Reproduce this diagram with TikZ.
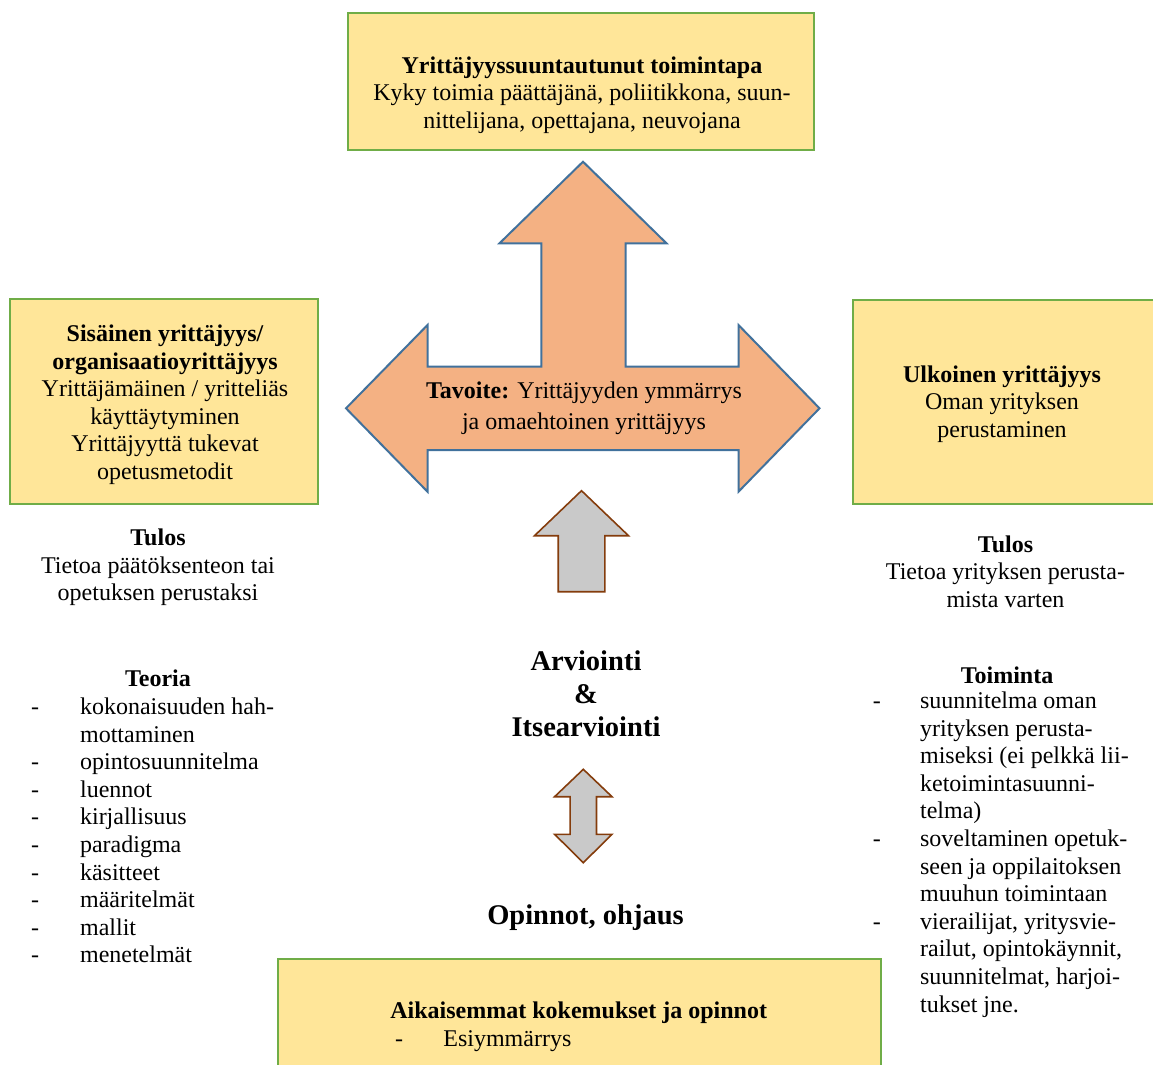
\documentclass[tikz,border=0pt]{standalone}
\usepackage{fontspec}
\newfontfamily\fa{Liberation Serif}
\newcommand\rs{\fa\fontsize{48}{55.2}\selectfont}
\newcommand\rsgoal{\fa\fontsize{48}{62}\selectfont}
\newcommand\rsbig{\fa\fontsize{57}{66}\selectfont\bfseries}
\newcommand\rsb{\fa\fontsize{48}{55.2}\selectfont\bfseries}
\definecolor{boxfill}{HTML}{FFE699}
\definecolor{boxline}{HTML}{70AD47}
\definecolor{arrfill}{HTML}{F4B183}
\definecolor{arrline}{HTML}{41719C}
\definecolor{grayfill}{HTML}{C9C9C9}
\definecolor{brownline}{HTML}{843C0C}
\begin{document}
\begin{tikzpicture}[x=2pt,y=-2pt,
  every node/.style={font=\rs, inner sep=0pt},
  ybox/.style={draw=boxline, fill=boxfill, line width=5pt},
  bigarrow/.style={draw=arrline, fill=arrfill, line width=4pt, line join=miter},
  grayarrow/.style={draw=brownline, fill=grayfill, line width=3.2pt, line join=miter},
  bigtitle/.style={font=\rsbig, align=center},
  ctext/.style={align=center}]
\useasboundingbox (0,0) rectangle (1153,1064);

% boxes
\node[ybox, minimum width=932pt, minimum height=274pt] (topbox) at (581,81.5) {};
\node[ybox, minimum width=616pt, minimum height=410pt] (leftbox) at (164,401.5) {};
\node[ybox, minimum width=604pt, minimum height=408pt] (rightbox) at (1004,402) {};
\node[ybox, minimum width=1206pt, minimum height=216pt] (bottombox) at (579.5,1013) {};

% big three-way arrow
\draw[bigarrow] (583,161.7) -- (666.5,243.3) -- (625.7,243.3) -- (625.7,366.7)
  -- (738.5,366.7) -- (738.5,325) -- (819.5,408.3) -- (738.5,491.7) -- (738.5,450)
  -- (427.5,450) -- (427.5,491.7) -- (346,408.3) -- (427.5,325) -- (427.5,366.7)
  -- (541.3,366.7) -- (541.3,243.3) -- (499.5,243.3) -- cycle;

% small grey arrows
\draw[grayarrow] (581.5,490.7) -- (628.5,535.7) -- (604.8,535.7) -- (604.8,591.7)
  -- (558.2,591.7) -- (558.2,535.7) -- (534.5,535.7) -- cycle;
\draw[grayarrow] (583.3,769.3) -- (612,796.7) -- (596.5,796.7) -- (596.5,834.3)
  -- (612,834.3) -- (583.3,862.7) -- (554.6,834.3) -- (570.1,834.3) -- (570.1,796.7)
  -- (554.6,796.7) -- cycle;

% texts in boxes
\node[ctext] (toptxt) at (582,95) {\rs\textbf{Yrittäjyyssuuntautunut toimintapa}\\\rs Kyky toimia päättäjänä, poliitikkona, suun-\\\rs nittelijana, opettajana, neuvojana};
\node[ctext] (lefttxt) at (165,404.8) {\rsb Sisäinen yrittäjyys/\\\rsb organisaatioyrittäjyys\\\rs Yrittäjämäinen / yritteliäs\\\rs käyttäytyminen\\\rs Yrittäjyyttä tukevat\\\rs opetusmetodit};
\node[ctext] (righttxt) at (1002,404) {\rsb Ulkoinen yrittäjyys\\\rs Oman yrityksen\\\rs perustaminen};
\node[ctext, font=\rsgoal] (goal) at (584,408.3) {\rsgoal\textbf{Tavoite:} Yrittäjyyden ymmärrys\\\rsgoal ja omaehtoinen yrittäjyys};

% results
\node[ctext] (lefttulos) at (158,567.5) {\rsb Tulos\\\rs Tietoa päätöksenteon tai\\\rs opetuksen perustaksi};
\node[ctext] (righttulos) at (1005.5,571.5) {\rsb Tulos\\\rs Tietoa yrityksen perusta-\\\rs mista varten};

% centre titles
\node[bigtitle] (arvio) at (586,694) {\rsbig Arviointi\\\rsbig \&\\\rsbig Itsearviointi};
\node[bigtitle] (opinnot) at (585.5,918) {\rsbig Opinnot, ohjaus};

% left list
\node[font=\rsb] (teoria) at (158,678) {\rsb Teoria};
\node[anchor=north west] (teorialist) at (31,695) {\rs\begin{tabular}{@{}p{98pt}@{}l@{}}
-&kokonaisuuden hah-\\
&mottaminen\\
-&opintosuunnitelma\\
-&luennot\\
-&kirjallisuus\\
-&paradigma\\
-&käsitteet\\
-&määritelmät\\
-&mallit\\
-&menetelmät
\end{tabular}};

% right list
\node[font=\rsb] (toiminta) at (1007,675) {\rsb Toiminta};
\node[anchor=north west] (toimintalist) at (872.7,689) {\rs\begin{tabular}{@{}p{94.6pt}@{}l@{}}
-&suunnitelma oman\\
&yrityksen perusta-\\
&miseksi (ei pelkkä lii-\\
&ketoimintasuunni-\\
&telma)\\
-&soveltaminen opetuk-\\
&seen ja oppilaitoksen\\
&muuhun toimintaan\\
-&vierailijat, yritysvie-\\
&railut, opintokäynnit,\\
&suunnitelmat, harjoi-\\
&tukset jne.
\end{tabular}};

% bottom box text
\node[ctext] (aikais) at (578.7,1012.7) {\rsb Aikaisemmat kokemukset ja opinnot};
\node[anchor=north west] (esilist) at (395,1027.5) {\rs\begin{tabular}{@{}p{96.6pt}@{}l@{}}
-&Esiymmärrys
\end{tabular}};
\end{tikzpicture}
\end{document}
